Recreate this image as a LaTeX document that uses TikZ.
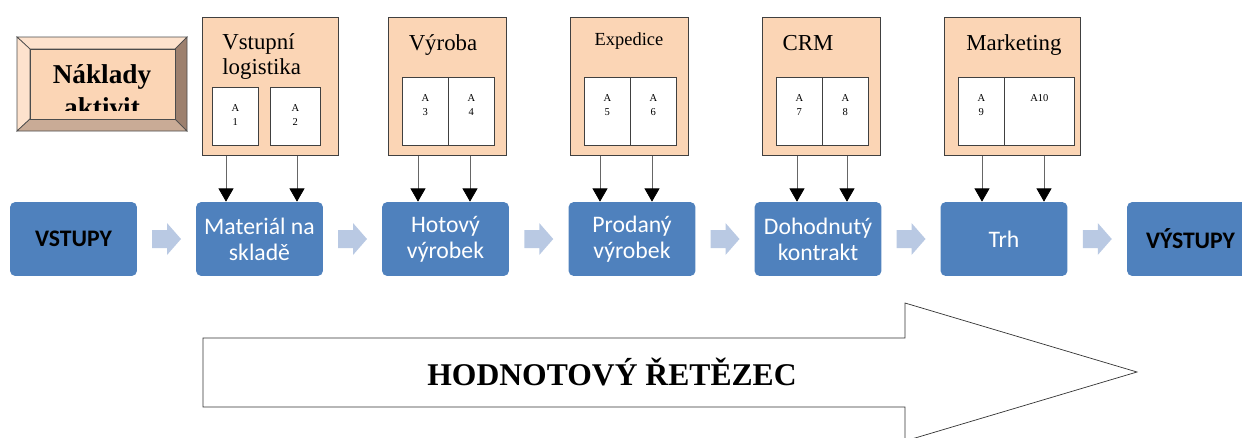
\documentclass[tikz,border=0pt]{standalone}
\usepackage{fontspec}
\setmainfont{Liberation Serif}
\newfontfamily\carlito{Carlito}
\usetikzlibrary{arrows.meta,calc}
\definecolor{costfill}{HTML}{FBD5B5}
\definecolor{stageblue}{HTML}{4F81BD}
\definecolor{flowblue}{HTML}{B9C9E3}
\definecolor{bevtop}{HTML}{FDE2CD}
\definecolor{bevright}{HTML}{9D806E}
\definecolor{bevbottom}{HTML}{C9AB96}

\begin{document}
\begin{tikzpicture}[x=0.02cm,y=-0.02cm,
		actbox/.style={draw=black!75, fill=costfill, anchor=north west, inner sep=0pt, minimum height=2.76cm},
		cellbox/.style={draw=black!75, fill=white, anchor=north west, inner sep=0pt},
		celltext/.style={font=\fontsize{6}{8.5}\selectfont, align=center, anchor=north, inner sep=0pt},
		title/.style={font=\fontsize{13}{14}\selectfont, anchor=base, inner sep=0pt},
		stage/.style={fill=stageblue, rounded corners=3pt, text=white, font=\carlito\fontsize{13.5}{14.8}\selectfont, align=center, minimum width=2.54cm, minimum height=1.48cm, inner sep=0pt},
		flow/.style={fill=flowblue},
		down/.style={draw=black!60, -{Triangle[width=8.5pt,length=7.5pt,black]}}]
		\clip (0,0) rectangle (1242,437);
		% bevelled box of costs
		\fill[bevtop, draw=black!70] (17,37) -- (187,37) -- (175,49) -- (30,49) -- cycle;
		\fill[bevtop, draw=black!70] (17,37) -- (30,49) -- (30,119) -- (17,131) -- cycle;
		\fill[bevright, draw=black!70] (187,37) -- (187,131) -- (175,119) -- (175,49) -- cycle;
		\fill[bevbottom, draw=black!70] (17,131) -- (187,131) -- (175,119) -- (30,119) -- cycle;
		\fill[costfill, draw=black!70] (30,49) rectangle (175,119);
		\begin{scope}
			\clip (30,49) rectangle (175,110);
			\node[font=\bfseries\fontsize{15.5}{18.7}\selectfont, align=center, anchor=north, inner sep=0pt] (cost) at (102,64) {Náklady\\aktivit};
		\end{scope}
		% activity boxes
		\node[actbox, minimum width=2.72cm] (log) at (202,17) {};
		\node[actbox, minimum width=2.36cm] (vyr) at (388,17) {};
		\node[actbox, minimum width=2.36cm] (exp) at (570,17) {};
		\node[actbox, minimum width=2.36cm] (crm) at (762,17) {};
		\node[actbox, minimum width=2.72cm] (mkt) at (944,17) {};
		\node[font=\fontsize{13}{14.2}\selectfont, align=left, anchor=north west, inner sep=0pt] (logt) at (222,33) {Vstupní\\logistika};
		\node[title] (vyrt) at (443,50) {Výroba};
		\node[title, font=\fontsize{10.5}{12}\selectfont] (expt) at (629,45) {Expedice};
		\node[title] (crmt) at (808,50) {CRM};
		\node[title] (mktt) at (1014,50) {Marketing};
		% activities
		\foreach \n/\x/\y/\w/\h/\t in {1/212/87/0.92/1.16/A\\1, 2/270/87/1.0/1.16/A\\2,
			3/402/77/0.92/1.36/A\\3, 4/448/77/0.92/1.36/A\\4, 5/584/77/0.92/1.36/A\\5,
			6/630/77/0.92/1.36/A\\6, 7/776/77/0.92/1.36/A\\7, 8/822/77/0.92/1.36/A\\8,
			9/958/77/0.92/1.36/A\\9, 10/1004/77/1.4/1.36/A10}
		{
			\node[cellbox, minimum width=\w cm, minimum height=\h cm] (a\n) at (\x,\y) {};
			\node[celltext] (at\n) at ([yshift=-9.5pt]a\n.north) {\t};
		}
		% stages of the chain
		\node[stage, font=\carlito\bfseries\fontsize{13.5}{14.8}\selectfont, text=black] (vst) at (73.5,239) {VSTUPY};
		\node[stage] (mat) at (259.5,239) {Materiál na\\skladě};
		\node[stage] (hot) at (445.5,239) {Hotový\\výrobek};
		\node[stage] (pro) at (632,239) {Prodaný\\výrobek};
		\node[stage] (doh) at (818,239) {Dohodnutý\\kontrakt};
		\node[stage] (trh) at (1004,239) {Trh};
		\node[stage, font=\carlito\bfseries\fontsize{13.5}{14.8}\selectfont, text=black] (vys) at (1190.5,239) {VÝSTUPY};
		% arrows between stages
		\foreach \a/\b in {vst/mat, mat/hot, hot/pro, pro/doh, doh/trh, trh/vys}
		{
			\coordinate (f\a) at ($(\a.east)!0.5!(\b.west)$);
			\fill[flow, shift={(f\a)}] (-14.5,-9) -- (0.5,-9) -- (0.5,-16) -- (14.5,0) -- (0.5,16) -- (0.5,9) -- (-14.5,9) -- cycle;
		}
		% arrows from activities to stages
		\foreach \x/\b/\s in {226/log/mat, 297/log/mat, 418/vyr/hot, 470/vyr/hot, 600/exp/pro,
			652/exp/pro, 797/crm/doh, 847/crm/doh, 982/mkt/trh, 1044/mkt/trh}
		{
			\draw[down] (\b.south -| \x,0) -- (\s.north -| \x,0);
		}
		% value chain arrow
		\draw[black!80, fill=white] (203,338) -- (905,338) -- (905,303) -- (1137,372) -- (905,441) -- (905,407) -- (203,407) -- cycle;
		\node[font=\bfseries\fontsize{18}{20}\selectfont] (chain) at (612,372) {HODNOTOVÝ ŘETĚZEC};
	\end{tikzpicture}
\end{document}
